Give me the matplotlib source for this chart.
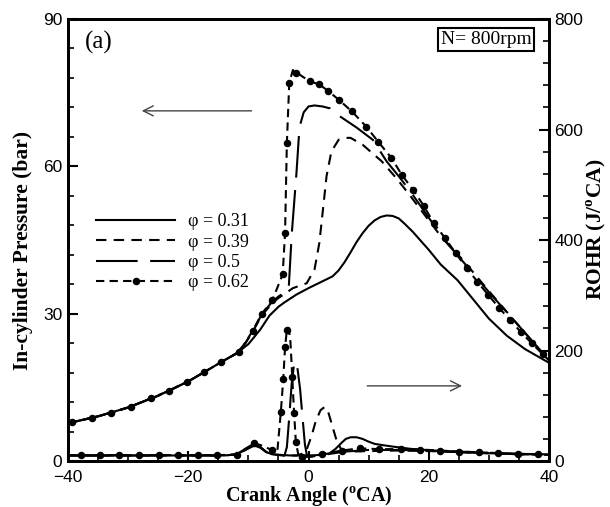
import matplotlib
matplotlib.use("Agg")
import matplotlib.pyplot as plt
from matplotlib.lines import Line2D
from matplotlib.ticker import MultipleLocator

plt.rcParams['font.family'] = ['Liberation Sans', 'DejaVu Sans']
plt.rcParams['mathtext.fontset'] = 'custom'
plt.rcParams['mathtext.rm'] = 'Liberation Serif'
plt.rcParams['mathtext.bf'] = 'Liberation Serif:bold'

# ---------------- data: in-cylinder pressure (bar) ----------------
p031_x = [-40, -35, -30, -25, -20, -15, -12, -10, -8, -6.5, -5, -4, -2, 0, 2, 3, 4, 5, 6, 7, 8,
          9, 10, 11, 12, 13, 14, 15, 16, 17.4, 20, 22, 24.8, 28, 30, 33, 36, 40]
p031_y = [7.7, 9.1, 10.9, 13.3, 16.2, 19.8, 21.9, 23.8, 26.8, 29.6, 31.4, 32.3, 33.9, 35.2,
          36.4, 37.0, 37.6, 38.8, 40.5, 42.5, 44.6, 46.4, 47.9, 49.0, 49.7, 50.0, 49.9, 49.4,
          48.3, 46.6, 43.0, 40.0, 36.8, 32.0, 29.0, 25.5, 22.8, 20.0]

p039_x = [-40, -35, -30, -25, -20, -15, -12, -10.5, -9.3, -7.8, -6, -5, -4, -2.6, -0.3, 1, 1.8,
          2.3, 3, 3.8, 5, 6, 7, 9, 12.2, 14.6, 16.8, 20, 22, 25.7, 30, 35, 40]
p039_y = [7.7, 9.1, 10.9, 13.3, 16.2, 19.8, 21.9, 24.0, 26.3, 29.6, 32.2, 33.2, 34.0, 35.2,
          36.2, 39.0, 44.4, 50.0, 58.0, 63.0, 65.4, 65.8, 65.8, 64.4, 61.0, 57.6, 54.2, 49.0,
          45.8, 40.9, 34.6, 27.5, 20.5]

p050_x = [-40, -35, -30, -25, -20, -15, -12, -10.5, -9.3, -7.8, -6, -5, -4, -3.3, -2.8, -2,
          -1.5, -0.8, 0, 1, 2.3, 3.6, 5.2, 8, 10.7, 13, 15, 17, 19, 21, 23, 25.7, 30, 35, 40]
p050_y = [7.7, 9.1, 10.9, 13.3, 16.2, 19.8, 21.9, 24.0, 26.4, 29.8, 32.5, 33.5, 34.3, 35.0,
          46.0, 58.7, 68.0, 71.0, 72.2, 72.4, 72.2, 71.8, 70.2, 67.9, 65.4, 61.0, 58.0, 54.8,
          51.3, 47.8, 44.4, 40.6, 34.4, 27.5, 20.5]

p062_x = [-40, -36.0, -32.8, -29.5, -26.2, -23.2, -20.2, -17.3, -14.5, -11.5, -9.3, -7.8, -6.0,
          -4.3, -3.9, -3.6, -3.2, -2.6, -2.0, 0.2, 1.8, 3.3, 5.0, 7.2, 9.6, 11.6, 13.8, 15.5,
          17.4, 19.2, 20.8, 22.7, 24.5, 26.3, 28.1, 29.9, 31.7, 33.5, 35.3, 37.1, 39.0, 40]
p062_y = [7.7, 8.8, 9.8, 11.1, 12.8, 14.3, 16.1, 18.1, 20.2, 22.2, 26.5, 29.9, 32.8,
          38.0, 46.4, 64.8, 77.0, 79.6, 79.1, 77.3, 76.7, 75.3, 73.6, 71.2, 68.1, 65.0, 61.7, 58.3,
          55.2, 51.9, 48.5, 45.4, 42.3, 39.3, 36.5, 33.8, 31.2, 28.7, 26.3, 24.0, 21.7, 20.5]
# symbol positions along the phi = 0.62 pressure curve
p062_mx = [-39.3, -36.0, -32.8, -29.5, -26.2, -23.2, -20.2, -17.3, -14.5, -11.5, -9.3, -7.8,
           -6.0, -4.3, -3.9, -3.6, -3.2, -2.0, 0.2, 1.8, 3.3, 5.0, 7.2, 9.6, 11.6, 13.8, 15.5,
           17.4, 19.2, 20.8, 22.7, 24.5, 26.3, 28.1, 29.9, 31.7, 33.5, 35.3, 37.1, 39.0]
p062_my = [7.9, 8.8, 9.8, 11.1, 12.8, 14.3, 16.1, 18.1, 20.2, 22.2, 26.5, 29.9,
           32.8, 38.0, 46.4, 64.8, 77.0, 79.1, 77.3, 76.7, 75.3, 73.6, 71.2, 68.1, 65.0, 61.7, 58.3,
           55.2, 51.9, 48.5, 45.4, 42.3, 39.3, 36.5, 33.8, 31.2, 28.7, 26.3, 24.0, 21.7]

# ---------------- data: rate of heat release (J/oCA) ----------------
r031_x = [-40, -30, -20, -14, -12, -10.5, -9, -8, -7, -6, -3, 0, 2, 3.5, 4.5, 5.5, 6.2, 7, 8, 9,
          10, 11, 12.5, 14.1, 17, 20.7, 25, 30, 35, 40]
r031_y = [10, 10, 10, 10, 12, 20, 28, 24, 16, 12, 10, 10, 11, 14, 22, 33, 40, 43, 43, 40,
          35, 31, 28.5, 26, 22, 19, 16, 14, 13, 12]

r039_x = [-40, -30, -20, -14, -12, -10.5, -9, -8, -7, -6, -4, -2, -0.5, 0.5, 1.2, 2, 2.7, 3.3,
          4, 4.7, 5.5, 7, 10, 15, 20, 25, 30, 35, 40]
r039_y = [10, 10, 10, 10, 12, 22, 31, 25, 16, 12, 10, 10, 15, 45, 72, 92, 98, 88,
          62, 36, 20, 17, 18, 19, 18, 16, 14, 12, 11]

r050_x = [-40, -30, -20, -14, -12, -10.5, -9, -8, -7, -6, -4, -3.6, -3.2, -2.8, -2.4, -2.1, -1.8,
          -1.4, -1, -0.6, -0.3, 0.5, 3, 6, 10, 15, 20, 25, 30, 35, 40]
r050_y = [10, 10, 10, 10, 12, 22, 32, 25, 16, 12, 10, 25, 80, 140, 176, 180, 165,
          130, 80, 30, 12, 8, 12, 17, 20, 20, 19, 17, 15, 13, 11]

r062_x = [-40, -37.9, -34.7, -31.5, -28.2, -24.9, -21.7, -18.4, -15.2, -11.9, -10.5, -9.0, -8,
          -7, -6.0, -5.2, -4.6, -4.2, -3.9, -3.6, -3.3, -3.0, -2.7, -2.4, -2.1, -1.7, -1.1, 0.5,
          2.2, 5.6, 8.5, 11.8, 15.4, 18.6, 21.9, 25.1, 28.4, 31.6, 34.9, 38.1, 40]
r062_y = [10.7, 10.7, 10.7, 10.7, 10.7, 10.7, 10.7, 10.7, 10.7, 11.5, 20, 32, 29,
          24, 20, 16, 89, 148, 206, 237, 241, 215, 152, 87, 34, 12, 7, 8,
          12.7, 19, 23, 21.5, 21.5, 20.8, 19, 17, 16, 14, 12, 12, 11.5]
# symbol positions along the phi = 0.62 ROHR curve
r062_mx = [-37.9, -34.7, -31.5, -28.2, -24.9, -21.7, -18.4, -15.2, -11.9, -9.0, -6.0, -4.6,
           -4.2, -3.9, -3.6, -2.7, -2.4, -2.1, -1.1, 2.2, 5.6, 8.5, 11.8, 15.4, 18.6, 21.9,
           25.1, 28.4, 31.6, 34.9, 38.1]
r062_my = [10.7, 10.7, 10.7, 10.7, 10.7, 10.7, 10.7, 10.7, 11.5, 32, 20, 89,
           148, 206, 237, 152, 87, 34, 7, 12.7, 19, 23, 21.5, 21.5, 20.8, 19,
           17, 16, 14, 12, 12]

labels = ['\u03c6 = 0.31', '\u03c6 = 0.39', '\u03c6 = 0.5', '\u03c6 = 0.62']
x_ticks = [-40, -20, 0, 20, 40]
p_ticks = [0, 30, 60, 90]
r_ticks = [0, 200, 400, 600, 800]

# ---------------- figure ----------------
fig = plt.figure(figsize=(6.10, 5.07), dpi=100)
ax = fig.add_axes([0.1115, 0.0907, 0.7885, 0.8718])
ax2 = ax.twinx()

lw = 1.5
st031 = dict(color='black', lw=lw, linestyle='-')
st039 = dict(color='black', lw=lw, linestyle=(0, (5, 3.5)))
st050 = dict(color='black', lw=lw, linestyle=(0, (20, 6)))
st062 = dict(color='black', lw=lw, linestyle=(0, (4, 2.5)))
mk062 = dict(color='black', linestyle='none', marker='o', ms=4.4)

l1, = ax.plot(p031_x, p031_y, **st031)
l2, = ax.plot(p039_x, p039_y, **st039)
l3, = ax.plot(p050_x, p050_y, **st050)
ax.plot(p062_x, p062_y, **st062)
ax.plot(p062_mx, p062_my, **mk062)

ax2.plot(r031_x, r031_y, **st031)
ax2.plot(r039_x, r039_y, **st039)
ax2.plot(r050_x, r050_y, **st050)
ax2.plot(r062_x, r062_y, **st062)
ax2.plot(r062_mx, r062_my, **mk062)

l4 = Line2D([], [], marker='o', ms=4.4, **st062)

ax.set_xlim(x_ticks[0], x_ticks[-1])
ax.set_ylim(p_ticks[0], p_ticks[-1])
ax2.set_ylim(r_ticks[0], r_ticks[-1])
ax.set_xticks(x_ticks)
ax.set_yticks(p_ticks)
ax2.set_yticks(r_ticks)
ax.xaxis.set_minor_locator(MultipleLocator(5))
ax.yaxis.set_minor_locator(MultipleLocator(6))
ax2.yaxis.set_minor_locator(MultipleLocator(40))

for a in (ax, ax2):
    for s in a.spines.values():
        s.set_linewidth(2.0)
ax.tick_params(axis='both', which='major', direction='in', length=7, width=1.5,
               labelsize=12.5, top=False, right=False, pad=4)
ax.tick_params(axis='x', which='major', pad=6.5)
ax.tick_params(axis='both', which='minor', direction='in', length=4, width=1.2,
               top=False, right=False)
ax2.tick_params(axis='y', which='major', direction='in', length=7, width=1.5, labelsize=12.5,
                pad=4)
ax2.tick_params(axis='y', which='minor', direction='in', length=4, width=1.2)

xlab = dict(family=['Liberation Serif', 'DejaVu Serif'], fontweight='bold', fontsize=14.5)
ylab = dict(family=['Liberation Serif', 'DejaVu Serif'], fontweight='bold', fontsize=15.5)
ax.set_xlabel(r'Crank Angle ($^{\mathbf{o}}$CA)', labelpad=-1, **xlab)
ax.set_ylabel('In-cylinder Pressure (bar)', labelpad=7.5, **ylab)
ax2.set_ylabel(r'ROHR (J/$^{\mathbf{o}}$CA)', labelpad=1, **ylab)
ax.yaxis.label.set_y(0.477)
ax2.yaxis.label.set_y(0.525)

leg = ax.legend([l1, l2, l3, l4], labels, loc='upper left', bbox_to_anchor=(0.058, 0.56),
                frameon=False, prop={'family': 'Liberation Serif', 'size': 13},
                handlelength=4.4, handletextpad=0.7, labelspacing=0.18,
                borderaxespad=0, borderpad=0)

ax.text(0.063, 0.946, '(a)', transform=ax.transAxes, ha='center', va='center',
        family='Liberation Serif', fontsize=18)
ax.text(0.869, 0.954, 'N= 800rpm', transform=ax.transAxes, ha='center', va='center',
        family='Liberation Serif', fontsize=14,
        bbox=dict(boxstyle='square,pad=0.15', fc='white', ec='black', lw=1.5))

arr = dict(arrowstyle='->', color='#444444', lw=1.0, mutation_scale=18)
ax.annotate('', xy=(-28.2, 71.3), xytext=(-9.0, 71.3), arrowprops=arr)
ax.annotate('', xy=(26.0, 15.3), xytext=(9.3, 15.3), arrowprops=arr)

fig.savefig('out.png', dpi=100)
